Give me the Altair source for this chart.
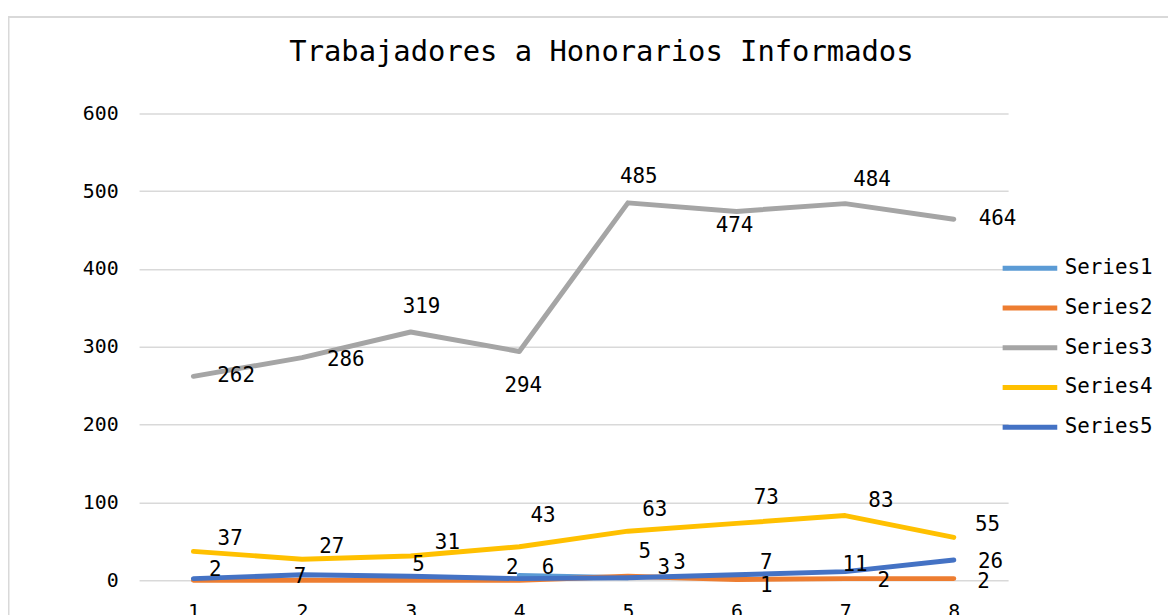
import altair as alt
import pandas as pd

# ---------------- data ----------------
categories = [1, 2, 3, 4, 5, 6, 7, 8]
series_names = ["Series1", "Series2", "Series3", "Series4", "Series5"]
series1 = [None, None, None, 6, 3, None, None, None]
series2 = [0, 0, 0, 0, 5, 1, 2, 2]
series3 = [262, 286, 319, 294, 485, 474, 484, 464]
series4 = [37, 27, 31, 43, 63, 73, 83, 55]
series5 = [2, 7, 5, 2, 3, 7, 11, 26]
# which data labels are visible in the original
series1_label_shown = [False, False, False, True, True, False, False, False]
series2_label_shown = [False, False, False, False, True, True, True, True]
y_ticks = [0, 100, 200, 300, 400, 500, 600]
title_text = "Trabajadores a Honorarios Informados"

# ---------------- styles ----------------
colors = ["#5B9BD5", "#ED7D31", "#A5A5A5", "#FFC000", "#4472C4"]
FONT = "DejaVu Sans Mono"
# label offsets (dx, dy) in pixels relative to each point
label_offsets = {
    "Series1": [None, None, None, (29, -8), (36, -10), None, None, None],
    "Series2": [None, None, None, None, (17, -24), (30, 7), (39, 2), (30, 3)],
    "Series3": [(43, 0), (44, 2), (11, -25), (4, 35), (11, -26), (-2, 15), (27, -24), (44, 0)],
    "Series4": [(37, -12), (30, -12), (37, -13), (24, -31), (27, -21), (30, -26), (36, -15), (34, -12)],
    "Series5": [(22, -9), (-2, 2), (8, -11), (-7, -11), (52, -15), (30, -12), (10, -7), (37, 2)],
}

all_values = {
    "Series1": series1, "Series2": series2, "Series3": series3,
    "Series4": series4, "Series5": series5,
}
shown = {
    "Series1": series1_label_shown,
    "Series2": series2_label_shown,
    "Series3": [True] * 8, "Series4": [True] * 8, "Series5": [True] * 8,
}

rows = []
for name in series_names:
    for i, c in enumerate(categories):
        v = all_values[name][i]
        if v is None:
            continue
        rows.append({"cat": c, "series": name, "value": v, "idx": i,
                     "show": shown[name][i]})
df = pd.DataFrame(rows)

W, H = 875, 470

x_enc = alt.X("cat:O", scale=alt.Scale(type="point", padding=0.5),
              axis=alt.Axis(title=None, labelAngle=0, grid=False, domain=False,
                            ticks=False, labelPadding=22, labelFont=FONT,
                            labelFontSize=20, labelColor="#000000"))
y_enc = alt.Y("value:Q", scale=alt.Scale(domain=[0, 600], nice=False),
              axis=alt.Axis(title=None, values=y_ticks, grid=True,
                            gridColor="#D9D9D9", gridWidth=1.5, domain=False,
                            ticks=False, labelPadding=21, labelFont=FONT,
                            labelFontSize=20, labelColor="#000000"))
color_enc = alt.Color("series:N",
                      scale=alt.Scale(domain=series_names, range=colors),
                      legend=alt.Legend(title=None, orient="none",
                                        legendX=867, legendY=126,
                                        symbolType="stroke", symbolSize=3025,
                                        symbolStrokeWidth=5, rowPadding=0,
                                        labelOffset=5, padding=0,
                                        labelFont=FONT, labelFontSize=21,
                                        labelColor="#000000"))

border = alt.Chart(pd.DataFrame({"a": [0]})).mark_rect(
    fillOpacity=0, stroke="#D9D9D9", strokeWidth=2
).encode(x=alt.value(-131.5), x2=alt.value(1100), y=alt.value(-97), y2=alt.value(600))

layers = [border]
for name in series_names:
    sub = df[df["series"] == name]
    layers.append(
        alt.Chart(sub).mark_line(strokeWidth=5, strokeCap="round", strokeJoin="round")
        .encode(x=x_enc, y=y_enc, color=color_enc)
    )

for name in series_names:
    for i, off in enumerate(label_offsets[name]):
        if off is None:
            continue
        sub = df[(df["series"] == name) & (df["idx"] == i) & (df["show"])]
        if len(sub) == 0:
            continue
        layers.append(
            alt.Chart(sub).mark_text(font=FONT, fontSize=21, color="#000000",
                                     align="center", baseline="middle",
                                     dx=off[0], dy=off[1])
            .encode(x=x_enc, y=y_enc, text=alt.Text("value:Q"))
        )

chart = alt.layer(*layers).properties(
    width=W, height=H, background="white",
    title=alt.TitleParams(title_text, font=FONT, fontSize=29, fontWeight="normal",
                          color="#000000", anchor="middle", dx=28, offset=-65,
                          baseline="middle"),
    autosize=alt.AutoSizeParams(type="none"),
    padding={"left": 132, "top": 104, "right": 161, "bottom": 40},
).configure_view(stroke=None)

chart.save("out.html", embed_options={"renderer": "svg", "actions": False})
